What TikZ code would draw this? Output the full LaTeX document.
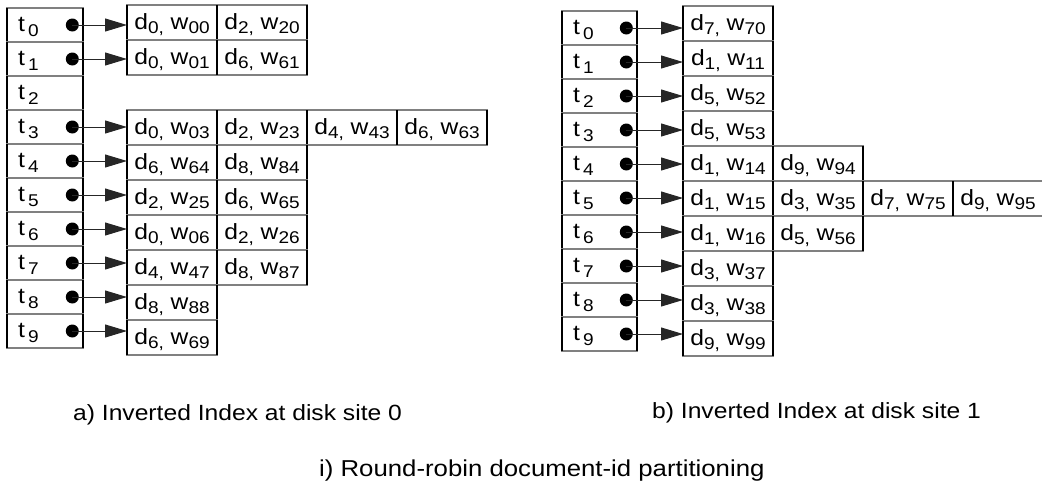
\documentclass[tikz,border=0pt]{standalone}
\usepackage{fontspec}
\setmainfont[FakeStretch=1.12]{Liberation Sans}
\usetikzlibrary{positioning,arrows.meta}

\newcommand{\lowsub}[1]{\raisebox{-4.5pt}{\fontsize{17pt}{17pt}\selectfont #1}}

\tikzset{
  cell/.style={draw=black!50, line width=1.1pt, minimum width=90pt, minimum height=35pt,
    inner sep=0pt, outer sep=0pt, text height=15pt, text depth=2pt,
    append after command={\pgfextra{\let\thiscell\tikzlastnode}
      (\thiscell.north west) edge[draw=black, line width=1.1pt] (\thiscell.south west)
      (\thiscell.north east) edge[draw=black, line width=1.1pt] (\thiscell.south east)}},
  termcell/.style={cell, minimum width=76pt, minimum height=34pt},
  termtext/.style={inner sep=0pt, text height=15pt, text depth=2pt},
  dot/.style={circle, fill=black, inner sep=0pt, minimum size=13pt},
  arr/.style={-{Triangle[length=22pt,width=13pt]}, line width=1pt, black!85},
  caption/.style={anchor=base west, inner sep=0pt}
}

\begin{document}
\begin{tikzpicture}[x=1pt,y=-1pt,font=\fontsize{22pt}{26pt}\selectfont]
\useasboundingbox (0,0) rectangle (1042,488);

% disk site 0
\foreach \i in {0,...,9} {
  \node[termcell] (ta\i) at (45,{25+34*\i}) {};
  \node[termtext, right=11pt of ta\i.west] (la\i) {t\hspace{3pt}\lowsub{\i}};
}
\foreach \i in {0,1,3,4,5,6,7,8,9}
  \node[dot, left=4pt of ta\i.east] (da\i) {};

\node[cell] (pa0) at (172,22.5) {d\lowsub{0,} w\lowsub{00}};
\node[cell, right=0pt of pa0] (pa0b) {d\lowsub{2,} w\lowsub{20}};
\node[cell] (pa1) at (172,57.5) {d\lowsub{0,} w\lowsub{01}};
\node[cell, right=0pt of pa1] (pa1b) {d\lowsub{6,} w\lowsub{61}};
\node[cell] (pa3) at (172,127.5) {d\lowsub{0,} w\lowsub{03}};
\node[cell, right=0pt of pa3] (pa3b) {d\lowsub{2,} w\lowsub{23}};
\node[cell, right=0pt of pa3b] (pa3c) {d\lowsub{4,} w\lowsub{43}};
\node[cell, right=0pt of pa3c] (pa3d) {d\lowsub{6,} w\lowsub{63}};
\node[cell] (pa4) at (172,162.5) {d\lowsub{6,} w\lowsub{64}};
\node[cell, right=0pt of pa4] (pa4b) {d\lowsub{8,} w\lowsub{84}};
\node[cell] (pa5) at (172,197.5) {d\lowsub{2,} w\lowsub{25}};
\node[cell, right=0pt of pa5] (pa5b) {d\lowsub{6,} w\lowsub{65}};
\node[cell] (pa6) at (172,232.5) {d\lowsub{0,} w\lowsub{06}};
\node[cell, right=0pt of pa6] (pa6b) {d\lowsub{2,} w\lowsub{26}};
\node[cell] (pa7) at (172,267.5) {d\lowsub{4,} w\lowsub{47}};
\node[cell, right=0pt of pa7] (pa7b) {d\lowsub{8,} w\lowsub{87}};
\node[cell] (pa8) at (172,302.5) {d\lowsub{8,} w\lowsub{88}};
\node[cell] (pa9) at (172,337.5) {d\lowsub{6,} w\lowsub{69}};

\foreach \i in {0,1,3,4,5,6,7,8,9}
  \draw[arr] (da\i.center) -- (pa\i.west |- da\i);

% disk site 1
\foreach \i in {0,...,9} {
  \node[termcell, minimum width=75pt] (tb\i) at (599.5,{28+34*\i}) {};
  \node[termtext, right=11pt of tb\i.west] (lb\i) {t\hspace{3pt}\lowsub{\i}};
  \node[dot, left=4pt of tb\i.east] (db\i) {};
}

\node[cell] (pb0) at (728,23.5) {d\lowsub{7,} w\lowsub{70}};
\node[cell] (pb1) at (728,58.5) {d\lowsub{1,} w\lowsub{11}};
\node[cell] (pb2) at (728,93.5) {d\lowsub{5,} w\lowsub{52}};
\node[cell] (pb3) at (728,128.5) {d\lowsub{5,} w\lowsub{53}};
\node[cell] (pb4) at (728,163.5) {d\lowsub{1,} w\lowsub{14}};
\node[cell, right=0pt of pb4] (pb4b) {d\lowsub{9,} w\lowsub{94}};
\node[cell] (pb5) at (728,198.5) {d\lowsub{1,} w\lowsub{15}};
\node[cell, right=0pt of pb5] (pb5b) {d\lowsub{3,} w\lowsub{35}};
\node[cell, right=0pt of pb5b] (pb5c) {d\lowsub{7,} w\lowsub{75}};
\node[cell, right=0pt of pb5c] (pb5d) {d\lowsub{9,} w\lowsub{95}};
\node[cell] (pb6) at (728,233.5) {d\lowsub{1,} w\lowsub{16}};
\node[cell, right=0pt of pb6] (pb6b) {d\lowsub{5,} w\lowsub{56}};
\node[cell] (pb7) at (728,268.5) {d\lowsub{3,} w\lowsub{37}};
\node[cell] (pb8) at (728,303.5) {d\lowsub{3,} w\lowsub{38}};
\node[cell] (pb9) at (728,338.5) {d\lowsub{9,} w\lowsub{99}};

\foreach \i in {0,...,9}
  \draw[arr] (db\i.center) -- (pb\i.west |- db\i);

% captions
\node[caption] (capa) at (73,420) {a) Inverted Index at disk site 0};
\node[caption] (capb) at (652,418) {b) Inverted Index at disk site 1};
\node[caption, font=\fontsize{23pt}{27pt}\selectfont] (title) at (319,476) {i) Round-robin document-id partitioning};
\end{tikzpicture}
\end{document}
